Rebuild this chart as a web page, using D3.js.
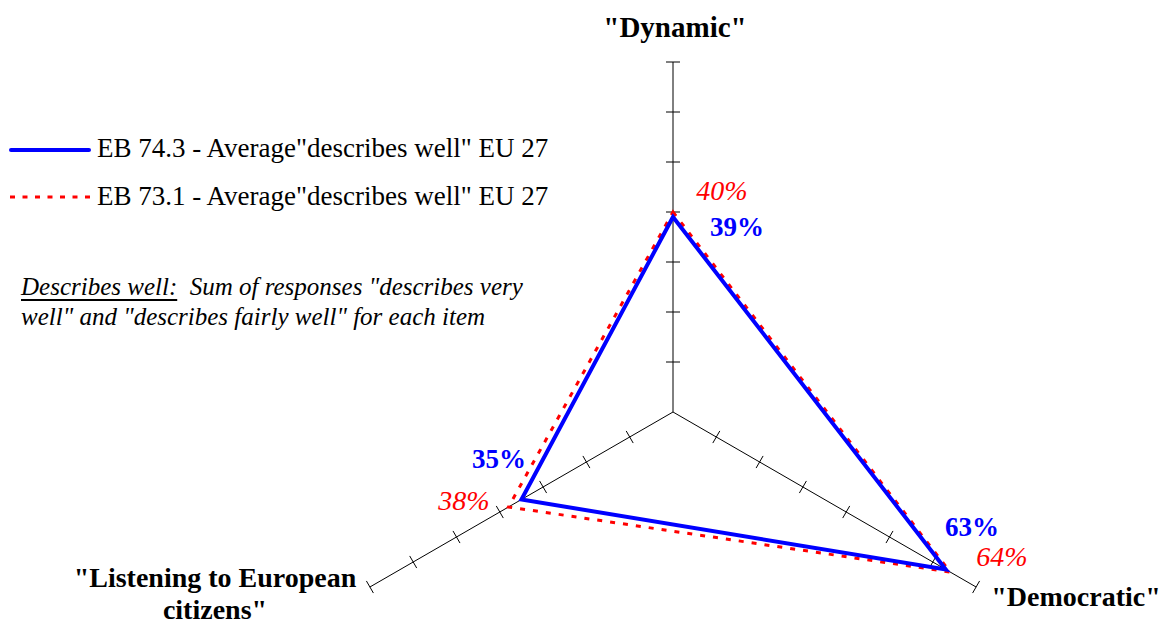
<!DOCTYPE html>
<html><head><meta charset="utf-8">
<script src="https://cdn.jsdelivr.net/npm/d3@7"></script>
<style>body{margin:0;background:#fff}svg{display:block}text{font-family:"Liberation Serif","Times New Roman",serif}</style>
</head><body>
<script>
const axes = ['"Dynamic"', '"Democratic"', '"Listening to European citizens"'];
const seriesNames = ['EB 74.3 - Average"describes well" EU 27', 'EB 73.1 - Average"describes well" EU 27'];
const eb743 = [39, 63, 35];
const eb731 = [40, 64, 38];
const tickValues = [10, 20, 30, 40, 50, 60, 70];

const W = 1163, H = 626, cx = 673, cy = 412, R = 350;
const svg = d3.select("body").append("svg").attr("width", W).attr("height", H);
const r = d3.scaleLinear().domain([0, 70]).range([0, R]);
const angles = [-90, 30, 150].map(a => a * Math.PI / 180);
const pt = (i, v) => [cx + r(v) * Math.cos(angles[i]), cy + r(v) * Math.sin(angles[i])];

// axes
angles.forEach((a, i) => {
  const [x2, y2] = pt(i, 70);
  svg.append("line").attr("x1", cx).attr("y1", cy).attr("x2", x2).attr("y2", y2)
    .attr("stroke", "#000").attr("stroke-width", 1);
  tickValues.forEach(t => {
    const [x, y] = pt(i, t);
    const px = -Math.sin(a) * 7, py = Math.cos(a) * 7;
    svg.append("line").attr("x1", x - px).attr("y1", y - py).attr("x2", x + px).attr("y2", y + py)
      .attr("stroke", "#000").attr("stroke-width", 1);
  });
});

const line = d3.line().curve(d3.curveLinearClosed);
svg.append("path").attr("d", line(eb731.map((v, i) => pt(i, v))))
  .attr("fill", "none").attr("stroke", "#ff0000").attr("stroke-width", 3).attr("stroke-dasharray", "5,8");
svg.append("path").attr("d", line(eb743.map((v, i) => pt(i, v))))
  .attr("fill", "none").attr("stroke", "#0000ff").attr("stroke-width", 4).attr("stroke-linejoin", "miter");

// axis labels
svg.append("text").attr("x", 675).attr("y", 37).attr("text-anchor", "middle")
  .attr("font-size", 29).attr("font-weight", "bold").text(axes[0]);
svg.append("text").attr("x", 1076).attr("y", 606).attr("text-anchor", "middle")
  .attr("font-size", 28).attr("font-weight", "bold").text(axes[1]);
const l3 = svg.append("text").attr("text-anchor", "middle").attr("font-size", 28).attr("font-weight", "bold");
l3.append("tspan").attr("x", 215).attr("y", 587).text('"Listening to European');
l3.append("tspan").attr("x", 215).attr("y", 619).text('citizens"');

// value labels
const blueLbl = [[737, 236], [972, 536], [499, 468]];
const redLbl = [[722, 200], [1002, 566], [464, 510]];
eb743.forEach((v, i) => svg.append("text").attr("x", blueLbl[i][0]).attr("y", blueLbl[i][1])
  .attr("text-anchor", "middle").attr("font-size", 27).attr("font-weight", "bold").attr("fill", "#0000ff").text(v + "%"));
eb731.forEach((v, i) => svg.append("text").attr("x", redLbl[i][0]).attr("y", redLbl[i][1])
  .attr("text-anchor", "middle").attr("font-size", 28).attr("font-style", "italic").attr("fill", "#ff0000").text(v + "%"));

// legend
svg.append("line").attr("x1", 11).attr("y1", 150).attr("x2", 89).attr("y2", 150)
  .attr("stroke", "#0000ff").attr("stroke-width", 4).attr("stroke-linecap", "round");
svg.append("line").attr("x1", 10).attr("y1", 197).attr("x2", 92).attr("y2", 197)
  .attr("stroke", "#ff0000").attr("stroke-width", 3).attr("stroke-dasharray", "5,7.5");
svg.append("text").attr("x", 97).attr("y", 157).attr("font-size", 27).text(seriesNames[0]);
svg.append("text").attr("x", 97).attr("y", 205).attr("font-size", 27).text(seriesNames[1]);

// note
const n1 = svg.append("text").attr("x", 21).attr("y", 295).attr("font-size", 25).attr("font-style", "italic");
const ts = n1.append("tspan").text("Describes well:");
n1.append("tspan").attr("xml:space", "preserve").style("white-space", "pre").text('  Sum of responses "describes very');
const uw = ts.node().getComputedTextLength();
svg.append("line").attr("x1", 21).attr("x2", 21 + uw).attr("y1", 300).attr("y2", 300)
  .attr("stroke", "#000").attr("stroke-width", 2);
svg.append("text").attr("x", 21).attr("y", 325).attr("font-size", 25).attr("font-style", "italic")
  .text('well" and "describes fairly well" for each item');
</script>
</body></html>
